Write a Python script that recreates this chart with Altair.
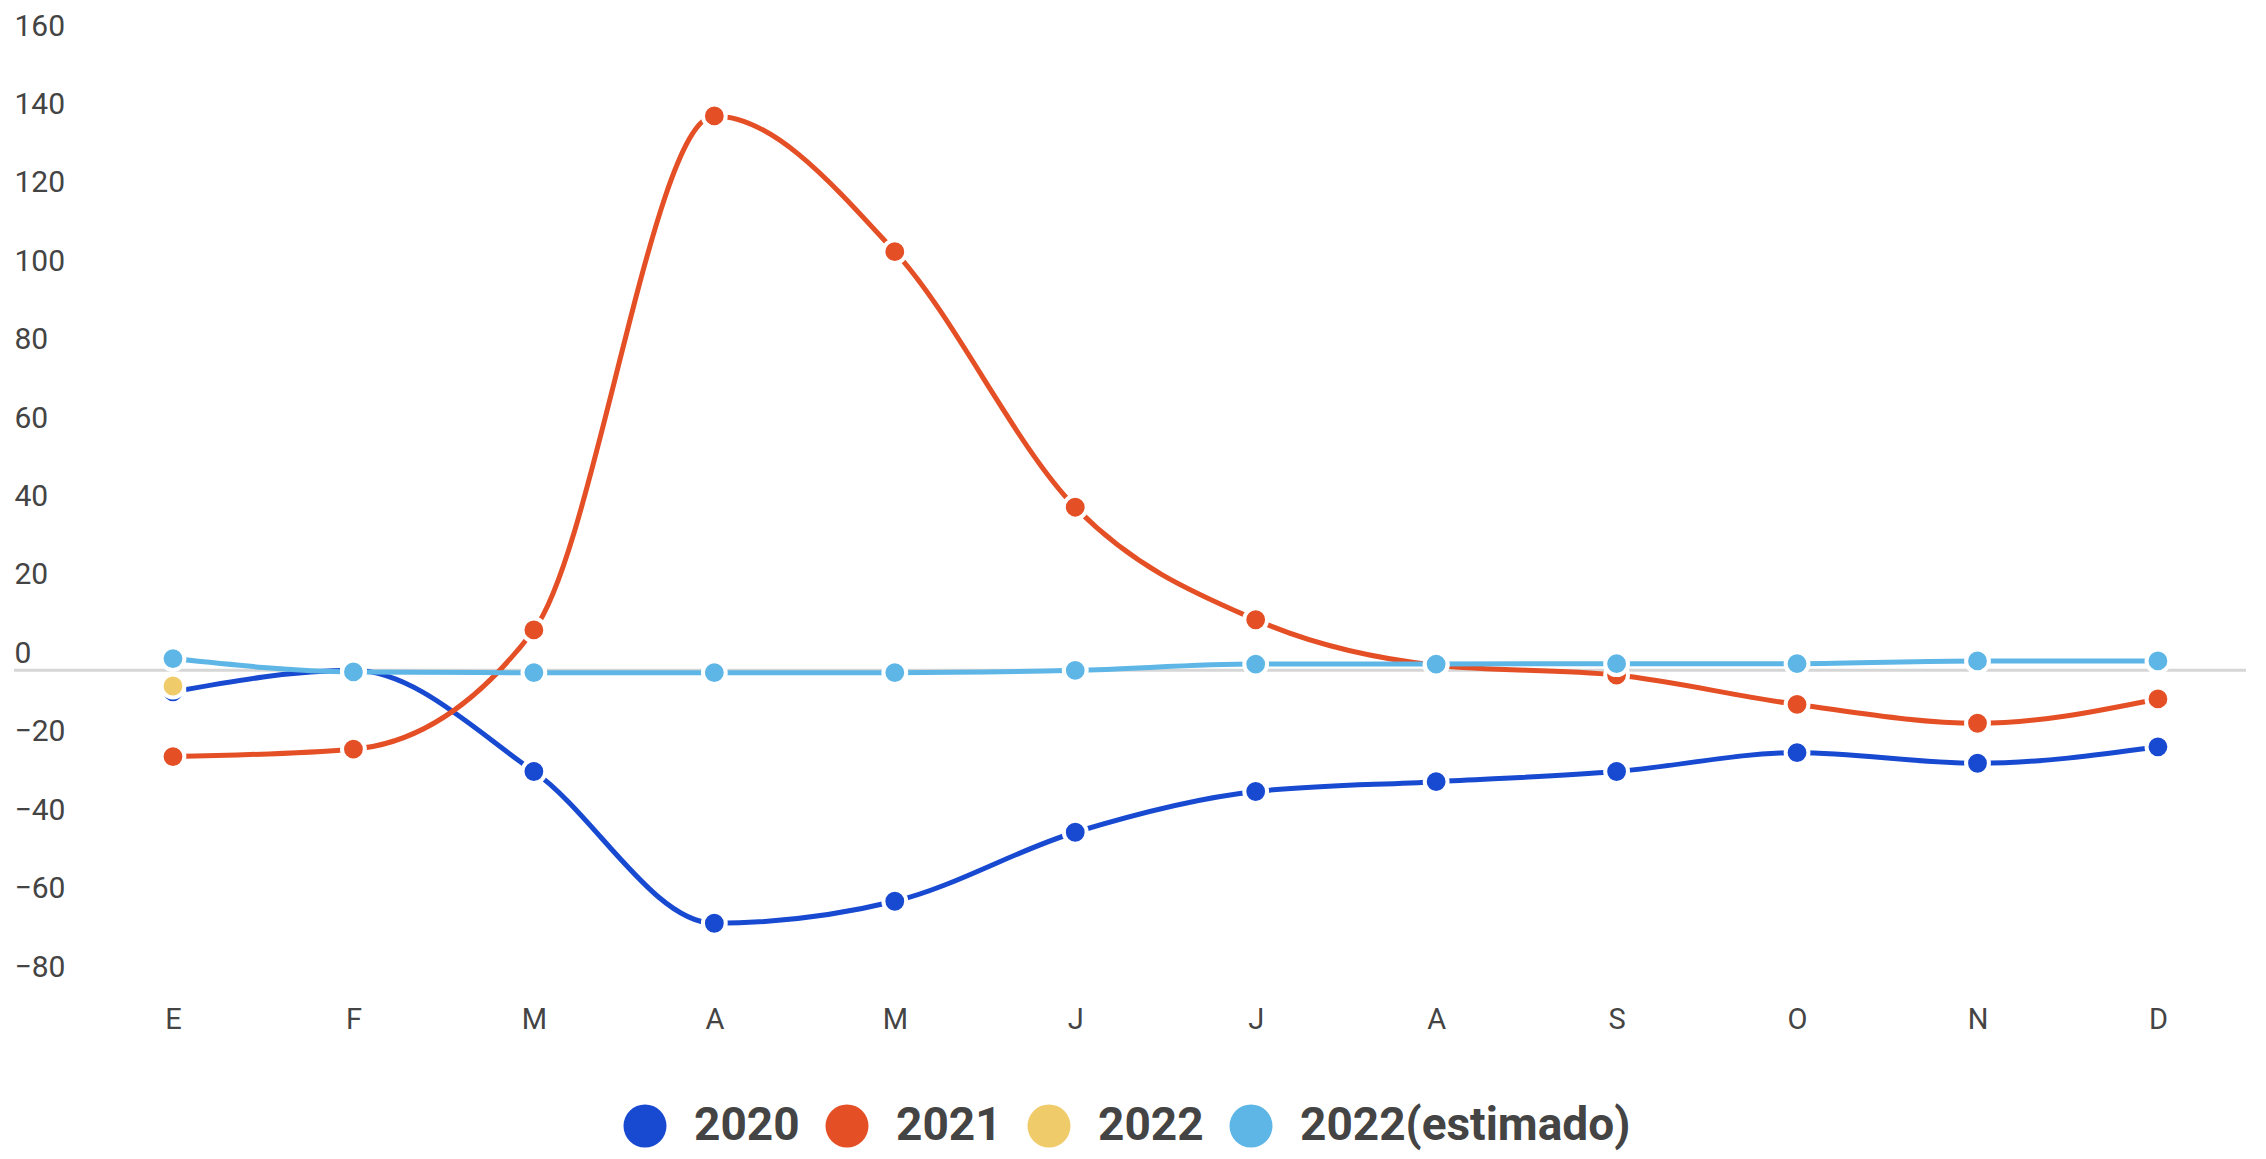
import altair as alt
import pandas as pd

months = ["E", "F", "M", "A", "M", "J", "J", "A", "S", "O", "N", "D"]
series_names = ["2020", "2021", "2022", "2022(estimado)"]
colors = ["#1749D1", "#E44F26", "#F0CB6A", "#5EB6E6"]

s2020 = [-5.5, 0.0, -25.8, -64.5, -58.9, -41.3, -30.9, -28.4, -25.8, -21.0, -23.7, -19.5]
s2021 = [-22.0, -20.1, 10.3, 141.4, 106.8, 41.6, 12.9, 1.3, -1.2, -8.7, -13.5, -7.3]
s2022 = [-4.0]
s2022e = [3.0, -0.4, -0.6, -0.6, -0.6, 0.0, 1.6, 1.6, 1.7, 1.7, 2.4, 2.4]

y_ticks = list(range(-80, 161, 20))

rows = []
for name, vals in zip(series_names, [s2020, s2021, s2022, s2022e]):
    for i, v in enumerate(vals):
        rows.append({"serie": name, "mes": i, "valor": v})
df = pd.DataFrame(rows)

x_scale = alt.Scale(domain=[-0.881, 11.488], nice=False, zero=False)
y_scale = alt.Scale(domain=[-80, 160], nice=False, zero=False)
color_scale = alt.Scale(domain=series_names, range=colors)

label_expr = "[" + ",".join(f"'{m}'" for m in months) + "][datum.value]"

x_axis = alt.Axis(
    values=list(range(12)), labelExpr=label_expr, title=None, grid=False,
    domain=False, ticks=False, tickSize=0, labelPadding=21, labelFontSize=29,
    labelColor="#444444", labelFont="Roboto", labelBaseline="top", labelFlush=False)
y_axis = alt.Axis(
    values=y_ticks, title=None, grid=False, domain=False, ticks=False, tickSize=0,
    labelAlign="left", labelBaseline="alphabetic", labelPadding=0, labelOffset=-8,
    labelFontSize=30, labelColor="#444444", labelFont="Roboto", labelFlush=False,
    labelOverlap=False, labelBound=False)
legend = alt.Legend(
    title=None, orient="none", direction="horizontal", legendX=608, legendY=1060,
    symbolType="circle", symbolSize=1850, symbolStrokeWidth=0, symbolOpacity=1,
    labelFontSize=46, labelFontWeight="bold", labelColor="#444444", labelFont="Roboto",
    labelOffset=26, columnPadding=24, labelLimit=600)

x_enc = alt.X("mes:Q", scale=x_scale, axis=x_axis)
y_enc = alt.Y("valor:Q", scale=y_scale, axis=y_axis)
c_enc = alt.Color("serie:N", scale=color_scale, sort=series_names, legend=legend)

zero_rule = alt.Chart(pd.DataFrame({"z": [0]})).mark_rule(
    color="#d6d6d6", strokeWidth=3).encode(y=alt.Y("z:Q", scale=y_scale, axis=y_axis))

lines = alt.Chart(df).mark_line(strokeWidth=5, interpolate="monotone").encode(
    x=x_enc, y=y_enc, color=c_enc,
    order=alt.Order("mes:Q"),
    detail="serie:N",
)

points = alt.Chart(df).mark_point(filled=True, size=520, opacity=1,
                                  stroke="white", strokeWidth=4).encode(
    x=x_enc, y=y_enc, color=c_enc,
)

chart = alt.layer(zero_rule, lines, points).properties(
    width=2232, height=941,
    autosize=alt.AutoSizeParams(type="none"),
    padding={"left": 6, "top": 35, "right": 12, "bottom": 167},
).configure(font="Roboto").configure_view(stroke=None)

chart.save("out.html", embed_options={"renderer": "svg", "actions": False})
